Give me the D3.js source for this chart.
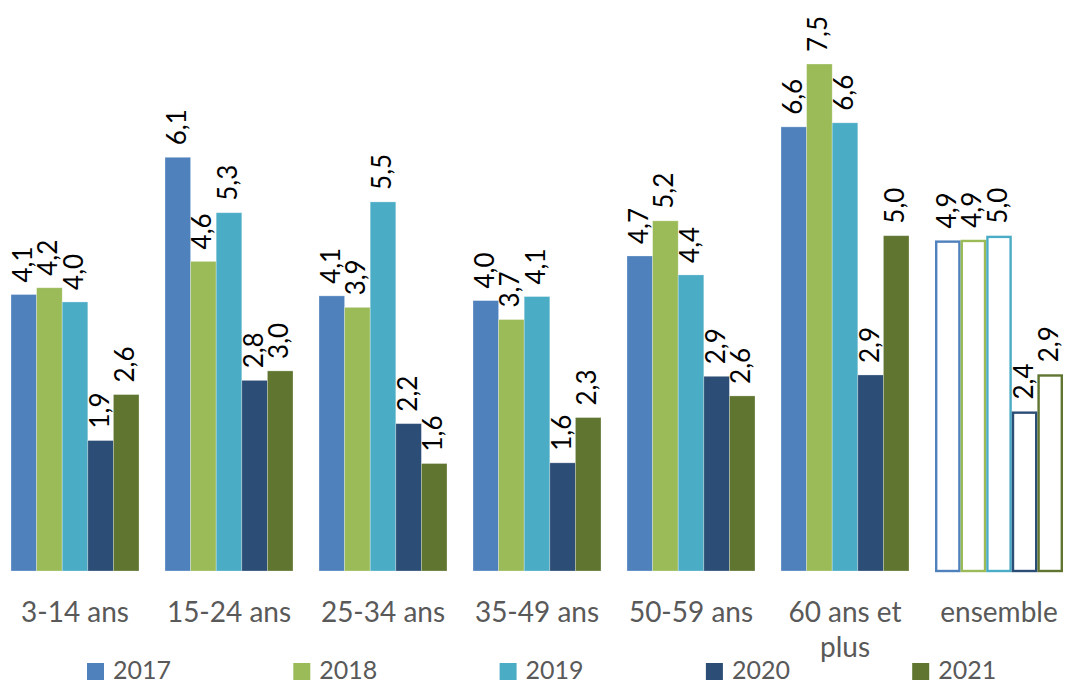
<!DOCTYPE html>
<html>
<head>
<meta charset="utf-8">
<script src="https://cdn.jsdelivr.net/npm/d3@7"></script>
<style>
  html, body { margin: 0; padding: 0; background: #fff; }
  svg { display: block; }
</style>
</head>
<body>
<svg id="chart" width="1067" height="686"></svg>
<script>
const categories = ["3-14 ans", "15-24 ans", "25-34 ans", "35-49 ans", "50-59 ans", "60 ans et plus", "ensemble"];
const years = ["2017", "2018", "2019", "2020", "2021"];
const v2017 = [4.09, 6.12, 4.07, 4.00, 4.66, 6.57, 4.89];
const v2018 = [4.19, 4.58, 3.90, 3.72, 5.18, 7.50, 4.90];
const v2019 = [3.98, 5.30, 5.46, 4.06, 4.38, 6.63, 4.96];
const v2020 = [1.93, 2.82, 2.18, 1.60, 2.88, 2.90, 2.36];
const v2021 = [2.61, 2.96, 1.59, 2.27, 2.59, 4.96, 2.91];
const seriesValues = [v2017, v2018, v2019, v2020, v2021];
const colors = ["#4F81BD", "#9BBB59", "#4BACC6", "#2C4D75", "#5F7530"];
const outlinedCategory = "ensemble";

const svg = d3.select("#chart");
const font = "Lato, 'Open Sans', sans-serif";

const x0 = d3.scaleBand().domain(categories).range([-2, 1076])
  .paddingInner(26 / 154).paddingOuter(13 / 154);
const x1 = d3.scaleBand().domain(years).range([0, x0.bandwidth()]);
const y = d3.scaleLinear().domain([0, 7.5]).range([571, 64]);
const fmt = v => d3.format(".1f")(v).replace(".", ",");

const data = [];
categories.forEach((c, ci) => {
  years.forEach((yr, yi) => {
    data.push({ cat: c, year: yr, yi, value: seriesValues[yi][ci] });
  });
});

const g = svg.append("g");
g.selectAll("rect.bar").data(data).join("rect")
  .attr("class", "bar")
  .each(function (d) {
    const sel = d3.select(this);
    const bx = x0(d.cat) + x1(d.year);
    const w = x1.bandwidth();
    if (d.cat === outlinedCategory) {
      sel.attr("x", bx + 1.2).attr("y", y(d.value) + 1.2)
        .attr("width", w - 2.4).attr("height", y(0) - y(d.value) - 1.2)
        .attr("fill", "#fff").attr("stroke", colors[d.yi]).attr("stroke-width", 2.4);
    } else {
      sel.attr("x", bx).attr("y", y(d.value))
        .attr("width", w).attr("height", y(0) - y(d.value))
        .attr("fill", colors[d.yi]).attr("stroke", "rgba(255,255,255,0.35)").attr("stroke-width", 0.8);
    }
  });

// data labels, rotated
g.selectAll("text.lbl").data(data).join("text")
  .attr("class", "lbl")
  .attr("transform", d => {
    const cx = x0(d.cat) + x1(d.year) + x1.bandwidth() / 2 + 8;
    const cy = y(d.value) - 12;
    return `translate(${cx},${cy}) rotate(-90)`;
  })
  .attr("text-anchor", "start")
  .attr("font-family", font)
  .attr("font-size", 26)
  .attr("fill", "#000")
  .text(d => fmt(d.value));

// category axis labels
const axisG = svg.append("g");
categories.forEach(c => {
  const cx = x0(c) + x0.bandwidth() / 2;
  const t = axisG.append("text")
    .attr("x", cx).attr("y", 622)
    .attr("text-anchor", "middle")
    .attr("font-family", font).attr("font-size", 28)
    .attr("fill", "#595959");
  if (c === "60 ans et plus") {
    t.append("tspan").attr("x", cx).attr("y", 622).text("60 ans et");
    t.append("tspan").attr("x", cx).attr("y", 657).text("plus");
  } else {
    t.text(c);
  }
});

// legend
const legend = svg.append("g");
years.forEach((yr, i) => {
  const lx = 87 + i * 206.3;
  legend.append("rect").attr("x", lx).attr("y", 663).attr("width", 17).attr("height", 17)
    .attr("fill", colors[i]);
  legend.append("text").attr("x", lx + 26).attr("y", 679)
    .attr("font-family", font).attr("font-size", 25).attr("fill", "#595959")
    .text(yr);
});
</script>
</body>
</html>
